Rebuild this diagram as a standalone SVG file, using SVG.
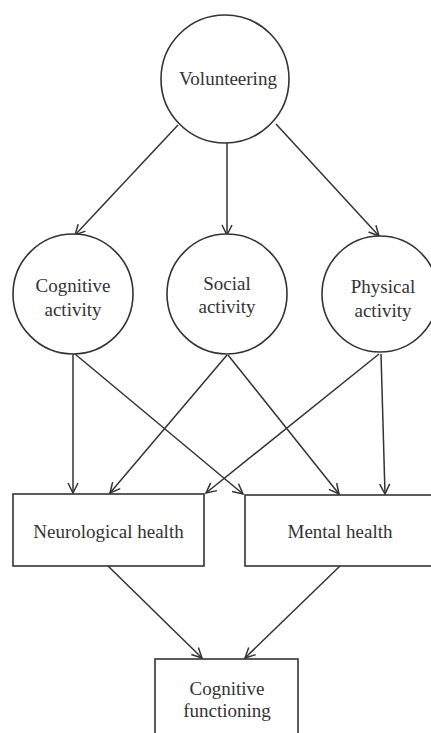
<svg xmlns="http://www.w3.org/2000/svg" width="431" height="733" viewBox="0 0 431 733">
<defs>
<style>
.n{fill:#fff;stroke:#333;stroke-width:1.6}
.t{font-size:19px;fill:#333;text-anchor:middle}
.c{fill:none;stroke:#333;stroke-width:1.5;marker-end:url(#a)}
</style>
<marker id="a" viewBox="0 0 12 12" refX="11" refY="6" markerWidth="12" markerHeight="12" markerUnits="userSpaceOnUse" orient="auto">
<path d="M1,1 L11,6 L1,11" fill="none" stroke="#333" stroke-width="1.5"/>
</marker>
</defs>
<rect width="431" height="733" fill="#fff"/>
<g id="connectors">
<line class="c" x1="178" y1="125" x2="75" y2="235"/>
<line class="c" x1="227" y1="143" x2="227" y2="235"/>
<line class="c" x1="276" y1="124" x2="379" y2="236"/>
<line class="c" x1="73" y1="354" x2="73" y2="493"/>
<line class="c" x1="75" y1="354" x2="243" y2="494"/>
<line class="c" x1="227" y1="355" x2="110" y2="493"/>
<line class="c" x1="228" y1="355" x2="339" y2="494"/>
<line class="c" x1="379" y1="354" x2="206" y2="493"/>
<line class="c" x1="381" y1="354" x2="385" y2="494"/>
<line class="c" x1="108" y1="566" x2="202" y2="658"/>
<line class="c" x1="340" y1="566" x2="245" y2="658"/>
</g>
<g font-family="'Liberation Serif', 'Times New Roman', 'DejaVu Serif', serif">
<g id="volunteering">
<circle class="n" cx="225" cy="79" r="64"/>
<text class="t" x="228" y="85">Volunteering</text>
</g>
<g id="cognitive-activity">
<circle class="n" cx="73" cy="294" r="60"/>
<text class="t" x="73" y="292">Cognitive</text>
<text class="t" x="73" y="316">activity</text>
</g>
<g id="social-activity">
<circle class="n" cx="227" cy="294" r="60"/>
<text class="t" x="227" y="290">Social</text>
<text class="t" x="227" y="313">activity</text>
</g>
<g id="physical-activity">
<circle class="n" cx="380" cy="294" r="58"/>
<text class="t" x="383" y="293">Physical</text>
<text class="t" x="383" y="317">activity</text>
</g>
<g id="neurological-health">
<rect class="n" x="13" y="494" width="191" height="72"/>
<text class="t" x="108.5" y="538">Neurological health</text>
</g>
<g id="mental-health">
<rect class="n" x="245" y="495" width="190" height="71"/>
<text class="t" x="340" y="538">Mental health</text>
</g>
<g id="cognitive-functioning">
<rect class="n" x="155" y="659" width="143" height="90"/>
<text class="t" x="227" y="695">Cognitive</text>
<text class="t" x="227" y="717">functioning</text>
</g>
</g>
</svg>
